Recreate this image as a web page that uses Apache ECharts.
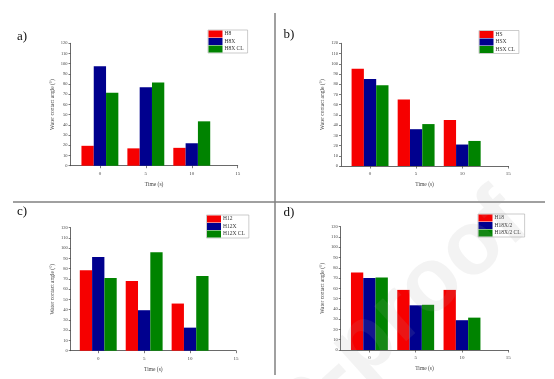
<!DOCTYPE html>
<html><head><meta charset="utf-8">
<script src="https://cdn.jsdelivr.net/npm/echarts@6/dist/echarts.min.js"></script>
<style>html,body{margin:0;padding:0;background:#fff}#c{width:554px;height:379px}</style>
</head><body><div id="c"></div>
<script>
// ---- data ----
const times = [0, 5, 10];
const xTicks = [0, 5, 10, 15];
const panelLabels = ['a)', 'b)', 'c)', 'd)'];
const yAxisTitle = 'Water contact angle (°)';
const xAxisTitle = 'Time (s)';

const namesA = ['H8', 'H8X', 'H8X CL'];
const a_H8 = [19.5, 17, 17.5];
const a_H8X = [97.5, 77, 22];
const a_H8XCL = [71.5, 81.5, 43.5];

const namesB = ['HS', 'HSX', 'HSX CL'];
const b_HS = [95, 65, 45];
const b_HSX = [85, 36, 21];
const b_HSXCL = [79, 41, 24.5];

const namesC = ['H12', 'H12X', 'H12X CL'];
const c_H12 = [78.5, 68, 46];
const c_H12X = [91.5, 39.5, 22.5];
const c_H12XCL = [71, 96, 73];

const namesD = ['H18', 'H18X/2', 'H18X/2 CL'];
const d_H18 = [75.5, 58.5, 58.5];
const d_H18X2 = [70, 43.5, 29];
const d_H18X2CL = [70.5, 44, 31.5];

const watermark = 'Journal Pre-proof';

// ---- layout / style ----
const colors = ['#f60000', '#00008e', '#008300'];
const serif = "'Liberation Serif', 'DejaVu Serif', serif";
const panels = [
  {names: namesA, vals: [a_H8, a_H8X, a_H8XCL], grid: {left: 70.5, top: 43.3, width: 167.2, height: 122.4}, xMin: -3.2, legend: {left: 208, top: 30}},
  {names: namesB, vals: [b_HS, b_HSX, b_HSXCL], grid: {left: 341, top: 43.3, width: 167.3, height: 122.7}, xMin: -3.15, legend: {left: 479, top: 30.5}},
  {names: namesC, vals: [c_H12, c_H12X, c_H12XCL], grid: {left: 70.7, top: 227.7, width: 165.3, height: 123}, xMin: -3.0, legend: {left: 206.5, top: 215}},
  {names: namesD, vals: [d_H18, d_H18X2, d_H18X2CL], grid: {left: 340.7, top: 226.7, width: 167.6, height: 123.3}, xMin: -3.1, legend: {left: 478, top: 214}}
];
const labelPos = [[22, 37], [289, 35], [22, 212], [289, 213]];

const grid = [], xAxis = [], yAxis = [], series = [], legend = [];
panels.forEach((p, i) => {
  grid.push(Object.assign({containLabel: false}, p.grid));
  xAxis.push({
    type: 'value', gridIndex: i, min: p.xMin, max: 15,
    axisLine: {show: true, onZero: false, lineStyle: {color: '#444', width: 0.8}},
    axisTick: {show: true, customValues: xTicks, length: 2.5, lineStyle: {color: '#444', width: 0.7}},
    axisLabel: {customValues: xTicks, fontSize: 5, margin: 5, fontFamily: serif, color: '#444'},
    splitLine: {show: false},
    name: xAxisTitle, nameLocation: 'middle', nameGap: 16,
    nameTextStyle: {fontSize: 5.5, fontFamily: serif, color: '#444'}
  });
  yAxis.push({
    type: 'value', gridIndex: i, min: 0, max: 120, interval: 10,
    axisLine: {show: true, onZero: false, lineStyle: {color: '#444', width: 0.8}},
    axisTick: {show: true, length: 2, lineStyle: {color: '#444', width: 0.7}},
    axisLabel: {fontSize: 4.5, margin: 3, fontFamily: serif, color: '#444'},
    splitLine: {show: false},
    name: yAxisTitle, nameLocation: 'middle', nameGap: 15, nameRotate: 90,
    nameTextStyle: {fontSize: 5.5, fontFamily: serif, color: '#444'}
  });
  p.names.forEach((n, k) => {
    series.push({
      type: 'bar', name: n, xAxisIndex: i, yAxisIndex: i,
      data: times.map((t, j) => [t, p.vals[k][j]]),
      barWidth: 12.3, barGap: '0%',
      itemStyle: {color: colors[k]},
      animation: false
    });
  });
  legend.push({
    data: p.names, orient: 'vertical', left: p.legend.left, top: p.legend.top,
    icon: 'rect', itemWidth: 14, itemHeight: 7, itemGap: 0.5,
    padding: [0.5, 4, 0.5, 0.5], borderColor: '#aaa', borderWidth: 0.6,
    textStyle: {fontSize: 5.5, fontFamily: serif, color: '#333', padding: [0, 0, 0, -3]},
    selectedMode: false
  });
});

const graphic = [
  {type: 'line', shape: {x1: 275, y1: 13, x2: 275, y2: 375}, style: {stroke: '#808080', lineWidth: 1.5}},
  {type: 'line', shape: {x1: 13, y1: 202, x2: 545, y2: 202}, style: {stroke: '#808080', lineWidth: 1.5}}
];
panelLabels.forEach((t, i) => {
  graphic.push({type: 'text', x: labelPos[i][0], y: labelPos[i][1],
    style: {text: t, fontSize: 13, fontFamily: serif, fill: '#111', align: 'center', verticalAlign: 'middle'}});
});
graphic.push({type: 'text', x: 515, y: 210, rotation: 0.733, z: 100,
  style: {text: watermark, x: 0, y: 0, align: 'right', verticalAlign: 'middle',
    font: "bold 90px 'Liberation Sans', Arial, sans-serif", fill: 'rgba(160,160,160,0.13)'}});

const chart = echarts.init(document.getElementById('c'), null, {renderer: 'canvas'});
chart.setOption({animation: false, backgroundColor: '#fff', grid, xAxis, yAxis, series, legend, graphic});
</script></body></html>
